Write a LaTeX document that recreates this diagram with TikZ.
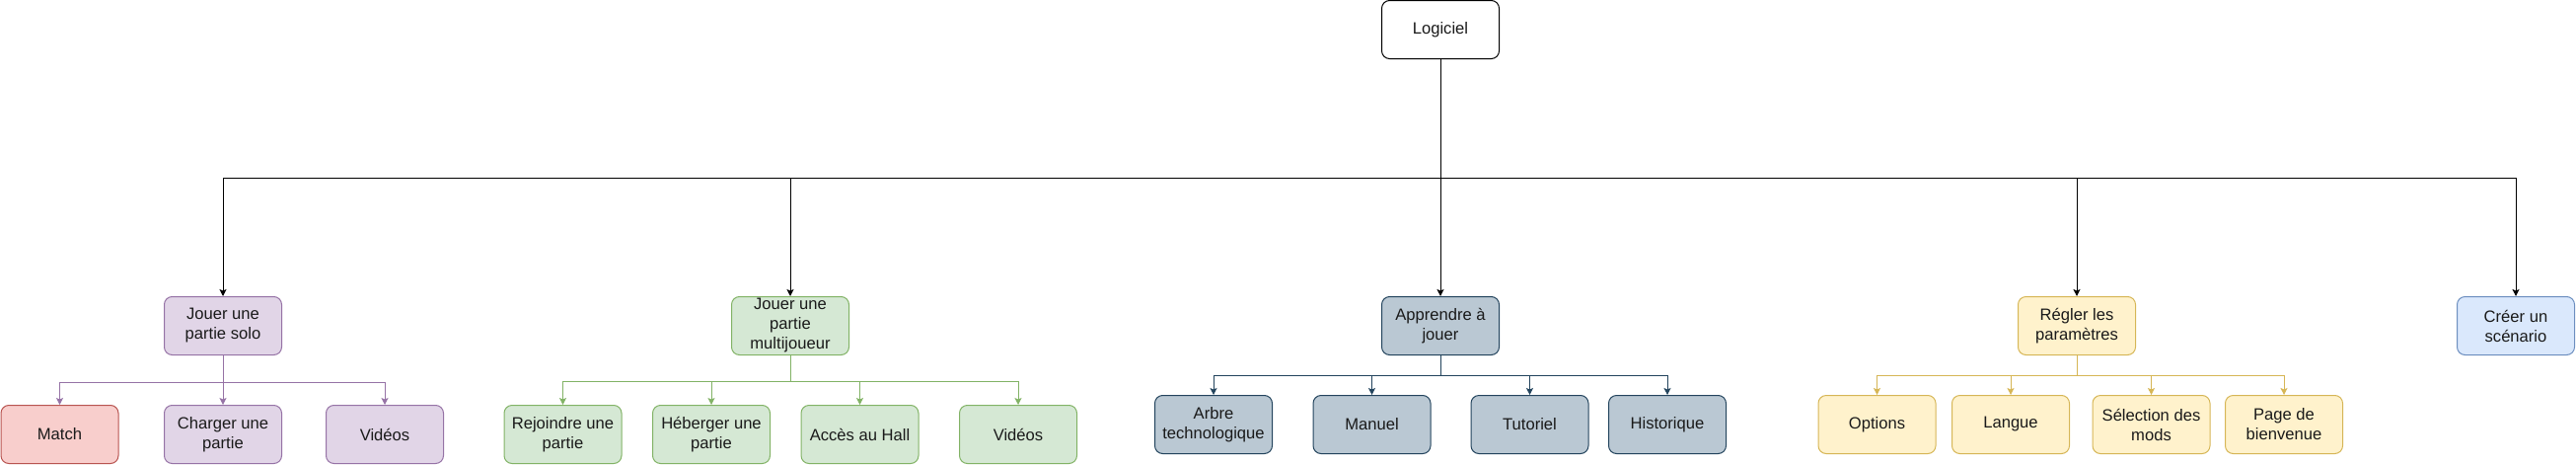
\documentclass[tikz,border=0pt]{standalone}
\usepackage{fontspec}
\setmainfont{Liberation Sans}
\usetikzlibrary{arrows.meta}
\definecolor{purF}{HTML}{E1D5E7}\definecolor{purS}{HTML}{9673A6}
\definecolor{redF}{HTML}{F8CECC}\definecolor{redS}{HTML}{B85450}
\definecolor{grnF}{HTML}{D5E8D4}\definecolor{grnS}{HTML}{82B366}
\definecolor{gryF}{HTML}{BAC8D3}\definecolor{gryS}{HTML}{23445D}
\definecolor{yelF}{HTML}{FFF2CC}\definecolor{yelS}{HTML}{D6B656}
\definecolor{bluF}{HTML}{DAE8FC}\definecolor{bluS}{HTML}{6C8EBF}
\definecolor{txt}{HTML}{1A1A1A}
\begin{document}
\begin{tikzpicture}[x=1pt,y=-1pt,
  box/.style={draw, rounded corners=8pt, minimum width=119pt, minimum height=59pt,
    inner sep=0pt, align=center, text=txt, line width=1pt,
    font=\fontsize{16.6}{20}\selectfont},
  purbox/.style={box, fill=purF, draw=purS},
  redbox/.style={box, fill=redF, draw=redS},
  grnbox/.style={box, fill=grnF, draw=grnS},
  grybox/.style={box, fill=gryF, draw=gryS},
  yelbox/.style={box, fill=yelF, draw=yelS},
  blubox/.style={box, fill=bluF, draw=bluS},
  arr/.style={line width=1pt, -{Stealth[length=7pt,width=7pt,inset=1.5pt]}}]
\useasboundingbox (0,0) rectangle (2611,471);

% root
\node[box, fill=white, draw=black] (log) at (1460,30) {Logiciel};

% level 1
\node[purbox] (solo)  at (226,330)  {Jouer une\\partie solo};
\node[grnbox] (multi) at (801,330)  {Jouer une\\partie\\multijoueur};
\node[grybox] (appr)  at (1460,330) {Apprendre à\\jouer};
\node[yelbox] (regl)  at (2105,330) {Régler les\\paramètres};
\node[blubox] (creer) at (2550,330) {Créer un\\scénario};

% solo children
\node[redbox] (match)   at (60.5,440) {Match};
\node[purbox] (charger) at (226,440)  {Charger une\\partie};
\node[purbox] (vidA)    at (390,440)  {Vidéos};

% multi children
\node[grnbox] (rejo)  at (570.5,440) {Rejoindre une\\partie};
\node[grnbox] (heber) at (721,440)   {Héberger une\\partie};
\node[grnbox] (acces) at (871.5,440) {Accès au Hall};
\node[grnbox] (vidB)  at (1032,440)  {Vidéos};

% apprendre children
\node[grybox] (arbre) at (1230,430)   {Arbre\\technologique};
\node[grybox] (manu)  at (1390.5,430) {Manuel};
\node[grybox] (tuto)  at (1550.5,430) {Tutoriel};
\node[grybox] (histo) at (1690,430)   {Historique};

% regler children
\node[yelbox] (opt)   at (1902.5,430) {Options};
\node[yelbox] (lang)  at (2038,430)   {Langue};
\node[yelbox] (sel)   at (2180.5,430) {Sélection des\\mods};
\node[yelbox] (page)  at (2315,430)   {Page de\\bienvenue};

% root connectors
\draw[arr, black] (log.south) -- ++(0,120) -| (solo.north);
\draw[arr, black] (log.south) -- ++(0,120) -| (multi.north);
\draw[arr, black] (log.south) -- (appr.north);
\draw[arr, black] (log.south) -- ++(0,120) -| (regl.north);
\draw[arr, black] (log.south) -- ++(0,120) -| (creer.north);

% solo connectors
\draw[arr, purS] (solo.south) -- ++(0,27) -| (match.north);
\draw[arr, purS] (solo.south) -- (charger.north);
\draw[arr, purS] (solo.south) -- ++(0,27) -| (vidA.north);

% multi connectors
\draw[arr, grnS] (multi.south) -- ++(0,26) -| (rejo.north);
\draw[arr, grnS] (multi.south) -- ++(0,26) -| (heber.north);
\draw[arr, grnS] (multi.south) -- ++(0,26) -| (acces.north);
\draw[arr, grnS] (multi.south) -- ++(0,26) -| (vidB.north);

% apprendre connectors
\draw[arr, gryS] (appr.south) -- ++(0,20) -| (arbre.north);
\draw[arr, gryS] (appr.south) -- ++(0,20) -| (manu.north);
\draw[arr, gryS] (appr.south) -- ++(0,20) -| (tuto.north);
\draw[arr, gryS] (appr.south) -- ++(0,20) -| (histo.north);

% regler connectors
\draw[arr, yelS] (regl.south) -- ++(0,20) -| (opt.north);
\draw[arr, yelS] (regl.south) -- ++(0,20) -| (lang.north);
\draw[arr, yelS] (regl.south) -- ++(0,20) -| (sel.north);
\draw[arr, yelS] (regl.south) -- ++(0,20) -| (page.north);
\end{tikzpicture}
\end{document}
